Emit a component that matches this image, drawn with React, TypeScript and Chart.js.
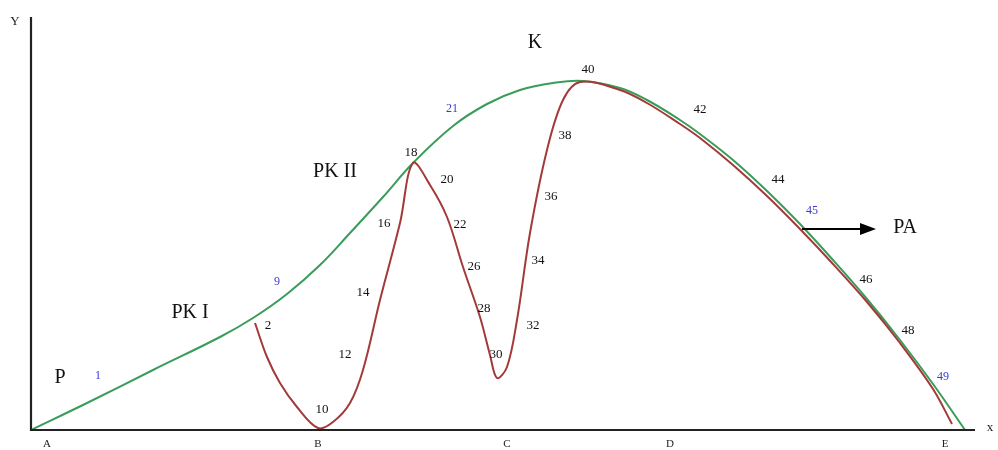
import React, { useEffect, useRef } from "react";
import { Chart, registerables } from "chart.js";
Chart.register(...registerables);

// Envelope curve (green)
const greenX = [0, 56, 122, 189, 222, 256, 289, 319, 352, 382, 422, 456, 489, 522, 552, 589, 616, 649, 669, 702, 736, 769, 802, 836, 869, 902, 934];
const greenY = [0, 27, 60, 93, 112, 136, 165, 197, 233, 267, 304, 326, 340, 347, 349, 342, 330, 310, 296, 270, 239, 206, 170, 131, 90, 46, 0];

// Oscillating curve (red)
const redX = [224, 236, 249, 266, 287, 302, 319, 332, 349, 369, 382, 399, 416, 432, 449, 459, 466, 476, 486, 499, 516, 532, 549, 589, 616, 649, 669, 702, 736, 769, 802, 836, 869, 902, 921];
const redY = [107, 73, 47, 23, 2, 8, 27, 60, 130, 207, 267, 245, 213, 163, 113, 75, 52, 63, 110, 197, 280, 330, 348, 340, 327, 306, 292, 265, 234, 201, 166, 128, 87, 41, 6];

// Axis tick labels
const tickNames = ["A", "B", "C", "D", "E"];
const tickValues = [16, 287, 476, 639, 914];

// Point number labels (black)
const numTexts = ["2", "10", "12", "14", "16", "18", "20", "22", "26", "28", "30", "32", "34", "36", "38", "40", "42", "44", "46", "48"];
const numX = [237, 291, 314, 332, 353, 380, 416, 429, 443, 453, 465, 502, 507, 520, 534, 557, 669, 747, 835, 877];
const numY = [104, 20, 75, 137, 206, 277, 250, 205, 163, 121, 75, 104, 169, 233, 294, 360, 320, 250, 150, 99];

// Point number labels (blue)
const blueTexts = ["1", "9", "21", "45", "49"];
const blueX = [67, 246, 421, 781, 912];
const blueY = [54, 148, 321, 219, 53];

// Region labels
const bigTexts = ["P", "PK I", "PK II", "K", "PA"];
const bigX = [29, 159, 304, 504, 874];
const bigY = [52, 117, 258, 387, 202];

// Arrow (from a point on the curve to the PA label)
const arrowFrom = [771, 201];
const arrowTo = [845, 201];

export default function App() {
  const ref = useRef<HTMLCanvasElement | null>(null);
  useEffect(() => {
    document.body.style.margin = "0";
    const canvas = ref.current;
    if (!canvas) return;
    const toPts = (xs: number[], ys: number[]) => xs.map((x, i) => ({ x, y: ys[i] }));

    const overlay = {
      id: "overlay",
      afterDatasetsDraw(chart: any) {
        const ctx = chart.ctx as CanvasRenderingContext2D;
        const xs = chart.scales.x;
        const ys = chart.scales.y;
        const X = (v: number) => xs.getPixelForValue(v);
        const Y = (v: number) => ys.getPixelForValue(v);
        ctx.save();
        // axes
        ctx.strokeStyle = "#222";
        ctx.lineWidth = 2.2;
        ctx.beginPath();
        ctx.moveTo(X(0), Y(413));
        ctx.lineTo(X(0), Y(0));
        ctx.lineTo(X(944), Y(0));
        ctx.stroke();
        ctx.fillStyle = "#222";
        ctx.textAlign = "center";
        ctx.textBaseline = "middle";
        ctx.font = "11px 'Liberation Serif', serif";
        tickNames.forEach((t, i) => ctx.fillText(t, X(tickValues[i]), Y(0) + 14));
        ctx.font = "13px 'Liberation Serif', serif";
        ctx.fillText("Y", 15, 22);
        ctx.fillText("x", 990, 428);
        // numbers
        ctx.fillStyle = "#111";
        ctx.font = "13px 'Liberation Serif', serif";
        numTexts.forEach((t, i) => ctx.fillText(t, X(numX[i]), Y(numY[i])));
        ctx.fillStyle = "#3a3ad0";
        ctx.font = "12px 'Liberation Serif', serif";
        blueTexts.forEach((t, i) => ctx.fillText(t, X(blueX[i]), Y(blueY[i])));
        ctx.fillStyle = "#111";
        ctx.font = "20px 'Liberation Serif', serif";
        bigTexts.forEach((t, i) => ctx.fillText(t, X(bigX[i]), Y(bigY[i])));
        // arrow
        ctx.strokeStyle = "#000";
        ctx.lineWidth = 2;
        ctx.beginPath();
        ctx.moveTo(X(arrowFrom[0]), Y(arrowFrom[1]));
        ctx.lineTo(X(arrowTo[0]) - 12, Y(arrowTo[1]));
        ctx.stroke();
        ctx.fillStyle = "#000";
        ctx.beginPath();
        ctx.moveTo(X(arrowTo[0]), Y(arrowTo[1]));
        ctx.lineTo(X(arrowTo[0]) - 16, Y(arrowTo[1]) - 6);
        ctx.lineTo(X(arrowTo[0]) - 16, Y(arrowTo[1]) + 6);
        ctx.closePath();
        ctx.fill();
        ctx.restore();
      },
    };

    const chart = new Chart(canvas, {
      type: "scatter",
      data: {
        datasets: [
          {
            data: toPts(redX, redY),
            showLine: true,
            borderColor: "#a33a3a",
            borderWidth: 2,
            pointRadius: 0,
            tension: 0.35,
          },
          {
            data: toPts(greenX, greenY),
            showLine: true,
            borderColor: "#3a9c5a",
            borderWidth: 2,
            pointRadius: 0,
            tension: 0.4,
          },
        ],
      },
      options: {
        animation: false,
        responsive: false,
        layout: { padding: { left: 31, right: 23, top: 17, bottom: 20 } },
        plugins: { legend: { display: false }, tooltip: { enabled: false } },
        scales: {
          x: { type: "linear", min: 0, max: 944, display: false },
          y: { type: "linear", min: 0, max: 413, display: false },
        },
      },
      plugins: [overlay],
    } as any);
    return () => chart.destroy();
  }, []);
  return (
    <div style={{ width: 998, height: 450, background: "#fff" }}>
      <canvas ref={ref} width={998} height={450} />
    </div>
  );
}
